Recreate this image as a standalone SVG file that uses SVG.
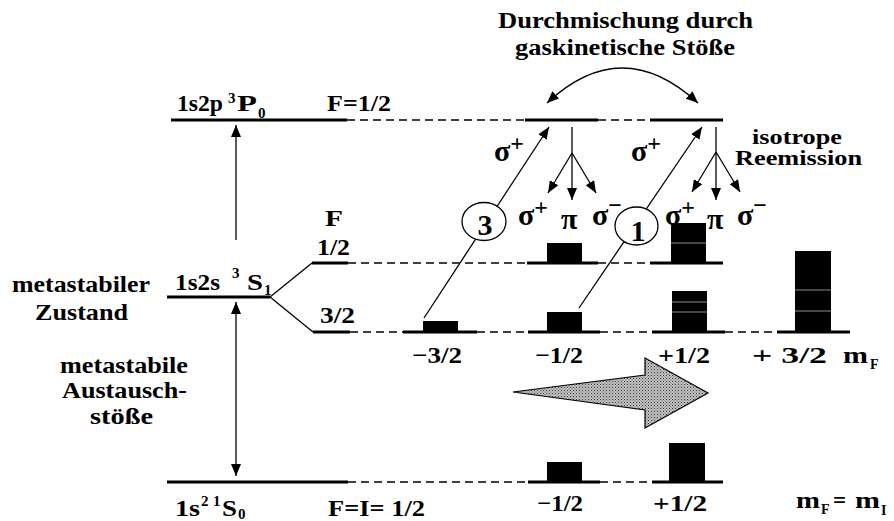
<svg xmlns="http://www.w3.org/2000/svg" width="894" height="521" viewBox="0 0 894 521">
<defs>
<style>
.t{font-family:"Liberation Serif","Times New Roman",serif;font-weight:bold;fill:#000;font-size:23px}
.s{font-size:15px}
.sub{font-size:14px}
.g{font-size:30px}
.num{font-size:30px}
.r{font-size:21px}
.lvl{stroke:#000;stroke-width:3;fill:none}
.dash{stroke:#000;stroke-width:1.5;stroke-dasharray:8 5;fill:none}
.thin{stroke:#000;stroke-width:1.3;fill:none}
.bar{fill:#000}
.sep{stroke:#8c8c8c;stroke-width:1}
.circ{fill:#fff;stroke:#000;stroke-width:1.3}
</style>
<marker id="ah" markerUnits="userSpaceOnUse" markerWidth="12" markerHeight="10" refX="12" refY="5" orient="auto-start-reverse"><path d="M0,0 L12,5 L0,10 z" fill="#000"/></marker>
<pattern id="stip" patternUnits="userSpaceOnUse" width="3" height="3"><rect width="3" height="3" fill="#c4c4c4"/><rect x="0" y="0" width="1" height="1" fill="#333"/><rect x="1.5" y="1.5" width="1" height="1" fill="#555"/></pattern>
</defs>
<rect width="894" height="521" fill="#fff"/>

<g id="level-3P0">
<line class="lvl" x1="171" y1="120" x2="347" y2="120"/>
<text class="t" x="177" y="111" textLength="46" lengthAdjust="spacingAndGlyphs">1s2p</text>
<text class="t s" x="228" y="103">3</text>
<text class="t" x="237" y="111" textLength="20" lengthAdjust="spacingAndGlyphs">P</text>
<text class="t s" x="258" y="118">0</text>
<text class="t" x="327" y="111" textLength="64" lengthAdjust="spacingAndGlyphs">F=1/2</text>
</g>

<g id="sublevels-P">
<line class="dash" x1="347" y1="120" x2="525" y2="120"/>
<line class="dash" x1="598" y1="120" x2="650" y2="120"/>
<line class="lvl" x1="525" y1="120" x2="598" y2="120"/>
<line class="lvl" x1="650" y1="120" x2="723" y2="120"/>
</g>

<g id="level-3S1">
<line class="lvl" x1="167" y1="297" x2="270" y2="297"/>
<line class="thin" x1="270" y1="297" x2="312" y2="263" stroke-width="2"/>
<line class="thin" x1="270" y1="297" x2="313" y2="332" stroke-width="2"/>
<line class="lvl" x1="312" y1="263" x2="348" y2="263"/>
<line class="lvl" x1="313" y1="332" x2="350" y2="332"/>
<text class="t" x="175" y="290" textLength="45" lengthAdjust="spacingAndGlyphs">1s2s</text>
<text class="t s" x="232" y="278">3</text>
<text class="t" x="247" y="290" textLength="16" lengthAdjust="spacingAndGlyphs">S</text>
<text class="t s" x="264" y="295">1</text>
<text class="t" x="325" y="226" textLength="18" lengthAdjust="spacingAndGlyphs">F</text>
<text class="t" x="317" y="255" textLength="33" lengthAdjust="spacingAndGlyphs">1/2</text>
<text class="t" x="320" y="323" textLength="35" lengthAdjust="spacingAndGlyphs">3/2</text>
<text class="t" x="12" y="292" textLength="138" lengthAdjust="spacingAndGlyphs">metastabiler</text>
<text class="t" x="35" y="320" textLength="93" lengthAdjust="spacingAndGlyphs">Zustand</text>
</g>

<g id="sublevels-F12">
<line class="dash" x1="348" y1="263" x2="527" y2="263"/>
<line class="dash" x1="598" y1="263" x2="650" y2="263"/>
<line class="lvl" x1="527" y1="263" x2="598" y2="263"/>
<line class="lvl" x1="650" y1="263" x2="723" y2="263"/>
<rect class="bar" x="547" y="243" width="35" height="20"/>
<rect class="bar" x="671" y="223" width="35" height="40"/>
<line class="sep" x1="671" y1="243" x2="706" y2="243"/>
</g>

<g id="sublevels-F32">
<line class="dash" x1="350" y1="332" x2="403" y2="332"/>
<line class="dash" x1="477" y1="332" x2="528" y2="332"/>
<line class="dash" x1="600" y1="332" x2="652" y2="332"/>
<line class="dash" x1="725" y1="332" x2="777" y2="332"/>
<line class="lvl" x1="403" y1="332" x2="477" y2="332"/>
<line class="lvl" x1="528" y1="332" x2="600" y2="332"/>
<line class="lvl" x1="652" y1="332" x2="725" y2="332"/>
<line class="lvl" x1="777" y1="332" x2="850" y2="332"/>
<rect class="bar" x="423" y="321" width="35" height="11"/>
<rect class="bar" x="547" y="312" width="35" height="20"/>
<rect class="bar" x="672" y="291" width="35" height="41"/>
<line class="sep" x1="672" y1="302" x2="707" y2="302"/>
<line class="sep" x1="672" y1="312" x2="707" y2="312"/>
<rect class="bar" x="795" y="251" width="36" height="81"/>
<line class="sep" x1="795" y1="290" x2="831" y2="290"/>
<line class="sep" x1="795" y1="311" x2="831" y2="311"/>
<text class="t" x="412" y="363" textLength="50" lengthAdjust="spacingAndGlyphs">−3/2</text>
<text class="t" x="535" y="363" textLength="48" lengthAdjust="spacingAndGlyphs">−1/2</text>
<text class="t" x="658" y="363" textLength="52" lengthAdjust="spacingAndGlyphs">+1/2</text>
<text class="t" x="752" y="363" textLength="75" lengthAdjust="spacingAndGlyphs">+ 3/2</text>
<text class="t" x="843" y="363" textLength="25" lengthAdjust="spacingAndGlyphs">m</text>
<text class="t sub" x="870" y="369">F</text>
</g>

<g id="level-1S0">
<line class="lvl" x1="167" y1="482" x2="348" y2="482"/>
<text class="t" x="175" y="516" textLength="25" lengthAdjust="spacingAndGlyphs">1s</text>
<text class="t s" x="201" y="506">2</text>
<text class="t s" x="213" y="506">1</text>
<text class="t" x="222" y="516" textLength="15" lengthAdjust="spacingAndGlyphs">S</text>
<text class="t s" x="238" y="519">0</text>
<text class="t" x="328" y="516" textLength="97" lengthAdjust="spacingAndGlyphs">F=I= 1/2</text>
</g>

<g id="sublevels-ground">
<line class="dash" x1="348" y1="482" x2="528" y2="482"/>
<line class="dash" x1="600" y1="482" x2="652" y2="482"/>
<line class="lvl" x1="528" y1="482" x2="600" y2="482"/>
<line class="lvl" x1="652" y1="482" x2="723" y2="482"/>
<rect class="bar" x="547" y="462" width="35" height="20"/>
<rect class="bar" x="669" y="443" width="36" height="39"/>
<text class="t" x="537" y="511" textLength="46" lengthAdjust="spacingAndGlyphs">−1/2</text>
<text class="t" x="653" y="511" textLength="54" lengthAdjust="spacingAndGlyphs">+1/2</text>
<text class="t" x="796" y="508" textLength="24" lengthAdjust="spacingAndGlyphs">m</text>
<text class="t sub" x="821" y="514">F</text>
<text class="t" x="833" y="508">=</text>
<text class="t" x="855" y="508" textLength="25" lengthAdjust="spacingAndGlyphs">m</text>
<text class="t sub" x="881" y="515">I</text>
</g>

<g id="label-austausch">
<text class="t" x="60" y="373" textLength="128" lengthAdjust="spacingAndGlyphs">metastabile</text>
<text class="t" x="62" y="398" textLength="125" lengthAdjust="spacingAndGlyphs">Austausch-</text>
<text class="t" x="90" y="424" textLength="63" lengthAdjust="spacingAndGlyphs">stöße</text>
</g>

<g id="label-durchmischung">
<text class="t" x="498" y="28" textLength="255" lengthAdjust="spacingAndGlyphs">Durchmischung durch</text>
<text class="t" x="515" y="55" textLength="220" lengthAdjust="spacingAndGlyphs">gaskinetische Stöße</text>
</g>

<g id="label-reemission">
<text class="t r" x="752" y="144" textLength="90" lengthAdjust="spacingAndGlyphs">isotrope</text>
<text class="t r" x="735" y="165" textLength="127" lengthAdjust="spacingAndGlyphs">Reemission</text>
</g>

<g id="connectors">
<line class="thin" x1="236" y1="240" x2="236" y2="125" marker-end="url(#ah)"/>
<line class="thin" x1="236" y1="302" x2="236" y2="476" marker-start="url(#ah)" marker-end="url(#ah)"/>
<path class="thin" d="M547,103 Q622,33 698,103" marker-start="url(#ah)" marker-end="url(#ah)"/>
<line class="thin" x1="424" y1="318" x2="549" y2="127" marker-end="url(#ah)"/>
<line class="thin" x1="579" y1="308" x2="702" y2="127" marker-end="url(#ah)"/>
<path class="thin" d="M572,127 L572,153"/>
<line class="thin" x1="572" y1="153" x2="548" y2="193" marker-end="url(#ah)"/>
<line class="thin" x1="572" y1="153" x2="572" y2="200" marker-end="url(#ah)"/>
<line class="thin" x1="572" y1="153" x2="596" y2="193" marker-end="url(#ah)"/>
<path class="thin" d="M716,127 L716,152"/>
<line class="thin" x1="716" y1="152" x2="692" y2="192" marker-end="url(#ah)"/>
<line class="thin" x1="716" y1="152" x2="716" y2="200" marker-end="url(#ah)"/>
<line class="thin" x1="716" y1="152" x2="740" y2="192" marker-end="url(#ah)"/>
<polygon points="513,392 645,375 645,358 708,393 645,428 645,410" fill="url(#stip)" stroke="#000" stroke-width="1.2"/>
</g>

<g id="pump-3">
<ellipse class="circ" cx="484" cy="221.5" rx="22" ry="19"/>
<text class="t num" x="485" y="235" text-anchor="middle">3</text>
</g>
<g id="pump-1">
<ellipse class="circ" cx="636.5" cy="226" rx="21.5" ry="19"/>
<text class="t num" x="638" y="241" text-anchor="middle">1</text>
</g>

<g id="labels-polarisation">
<text class="t g" x="494" y="161">σ<tspan style="font-size:24px" dy="-10">+</tspan></text>
<text class="t g" x="631" y="161">σ<tspan style="font-size:24px" dy="-10">+</tspan></text>
<text class="t g" x="518" y="225">σ<tspan style="font-size:24px" dy="-10">+</tspan></text>
<text class="t g" x="561" y="229">π</text>
<text class="t g" x="592" y="225">σ<tspan style="font-size:24px" dy="-12">−</tspan></text>
<text class="t g" x="665" y="225">σ<tspan style="font-size:24px" dy="-10">+</tspan></text>
<text class="t g" x="707" y="229">π</text>
<text class="t g" x="737" y="225">σ<tspan style="font-size:24px" dy="-12">−</tspan></text>
</g>
</svg>
